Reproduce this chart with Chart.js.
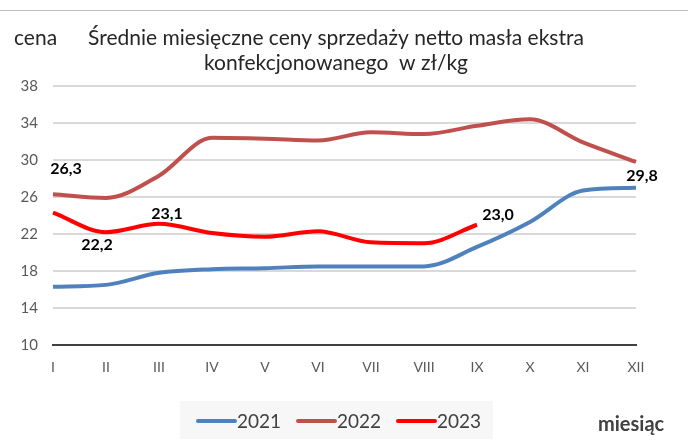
<!DOCTYPE html>
<html>
<head>
<meta charset="utf-8">
<script src="https://cdn.jsdelivr.net/npm/chart.js@4/dist/chart.umd.min.js"></script>
<style>
  html, body { margin: 0; padding: 0; background: #fff; }
  #wrap { width: 688px; height: 446px; }
</style>
</head>
<body>
<div id="wrap"><canvas id="chart" width="688" height="446"></canvas></div>
<script>
// ===== dane =====
const months = ['I', 'II', 'III', 'IV', 'V', 'VI', 'VII', 'VIII', 'IX', 'X', 'XI', 'XII'];
const seriesNames = ['2021', '2022', '2023'];
const values2021 = [16.3, 16.5, 17.8, 18.2, 18.3, 18.5, 18.5, 18.5, 20.6, 23.3, 26.7, 27.0];
const values2022 = [26.3, 25.9, 28.3, 32.4, 32.3, 32.1, 33.0, 32.8, 33.7, 34.4, 31.9, 29.8];
const values2023 = [24.3, 22.2, 23.1, 22.1, 21.7, 22.3, 21.1, 21.0, 23.0];
const yTicks = [10, 14, 18, 22, 26, 30, 34, 38];
const seriesColors = ['#4F81BD', '#C0504D', '#FF0000'];

// etykiety danych: [seria, punkt, przesuniecie x, przesuniecie y]
const pointLabels = [
  [1, 0, 13, -25],
  [1, 11, 6, 14],
  [2, 1, -9, 13],
  [2, 2, 8, -10],
  [2, 8, 21, -10]
];

const FONT = 'Lato, "Noto Sans", sans-serif';

// ===== rysowanie dodatkow =====
const extras = {
  id: 'extras',
  beforeDraw(chart) {
    const ctx = chart.ctx;
    ctx.save();
    ctx.fillStyle = '#fff';
    ctx.fillRect(0, 0, chart.width, chart.height);
    ctx.fillStyle = '#BFBFBF';
    ctx.fillRect(0, 10, chart.width, 1);
    ctx.restore();
  },
  afterDatasetsDraw(chart) {
    const ctx = chart.ctx;
    ctx.save();
    ctx.font = 'bold 16px ' + FONT;
    ctx.fillStyle = '#000';
    ctx.textAlign = 'center';
    ctx.textBaseline = 'middle';
    pointLabels.forEach(([ds, i, dx, dy]) => {
      const pt = chart.getDatasetMeta(ds).data[i];
      const v = chart.data.datasets[ds].data[i];
      ctx.fillText(v.toFixed(1).replace('.', ','), pt.x + dx, pt.y + dy);
    });
    ctx.restore();
  },
  afterDraw(chart) {
    const ctx = chart.ctx;
    ctx.save();
    // tytul i opisy osi
    ctx.fillStyle = '#262626';
    ctx.textBaseline = 'middle';
    ctx.font = '21px ' + FONT;
    ctx.textAlign = 'left';
    ctx.fillText('cena', 14, 38);
    ctx.textAlign = 'center';
    ctx.fillText('Średnie miesięczne ceny sprzedaży netto masła ekstra', 336, 38);
    ctx.fillText('konfekcjonowanego  w zł/kg', 336, 63);
    ctx.fillStyle = '#404040';
    ctx.font = 'bold 20px ' + FONT;
    ctx.textAlign = 'left';
    ctx.fillText('miesiąc', 598, 425);

    // legenda
    ctx.fillStyle = '#F7F7F7';
    ctx.fillRect(180, 401, 313, 38);
    ctx.font = '19px ' + FONT;
    ctx.textAlign = 'left';
    chart.data.datasets.forEach((d, k) => {
      const x0 = 198 + k * 100;
      ctx.strokeStyle = d.borderColor;
      ctx.lineWidth = 4;
      ctx.lineCap = 'round';
      ctx.beginPath();
      ctx.moveTo(x0, 421);
      ctx.lineTo(x0 + 37, 421);
      ctx.stroke();
      ctx.fillStyle = '#404040';
      ctx.fillText(d.label, x0 + 39, 422);
    });
    ctx.restore();
  }
};

const datasets = [values2021, values2022, values2023].map((vals, k) => ({
  label: seriesNames[k],
  data: vals,
  borderColor: seriesColors[k],
  backgroundColor: seriesColors[k],
  borderWidth: 4,
  pointRadius: 0,
  tension: 0.4,
  cubicInterpolationMode: 'monotone',
  fill: false
}));

new Chart(document.getElementById('chart'), {
  type: 'line',
  data: { labels: months, datasets: datasets },
  plugins: [extras],
  options: {
    responsive: false,
    animation: false,
    events: [],
    layout: { padding: { left: 0, top: 86, right: 52, bottom: 0 } },
    plugins: {
      legend: { display: false },
      title: { display: false },
      tooltip: { enabled: false }
    },
    scales: {
      x: {
        afterFit(scale) { scale.height = 101; },
        grid: { display: false, drawTicks: false },
        border: { display: true, color: '#404040', width: 2 },
        ticks: { color: '#595959', font: { family: FONT, size: 14 }, padding: 14, maxRotation: 0 }
      },
      y: {
        min: 10,
        max: 38,
        afterFit(scale) { scale.width = 53; },
        afterBuildTicks(scale) { scale.ticks = yTicks.map(v => ({ value: v })); },
        grid: { color: '#D9D9D9', lineWidth: 2, drawTicks: false },
        border: { display: false },
        ticks: { color: '#595959', font: { family: FONT, size: 15 }, padding: 15 }
      }
    }
  }
});
</script>
</body>
</html>
